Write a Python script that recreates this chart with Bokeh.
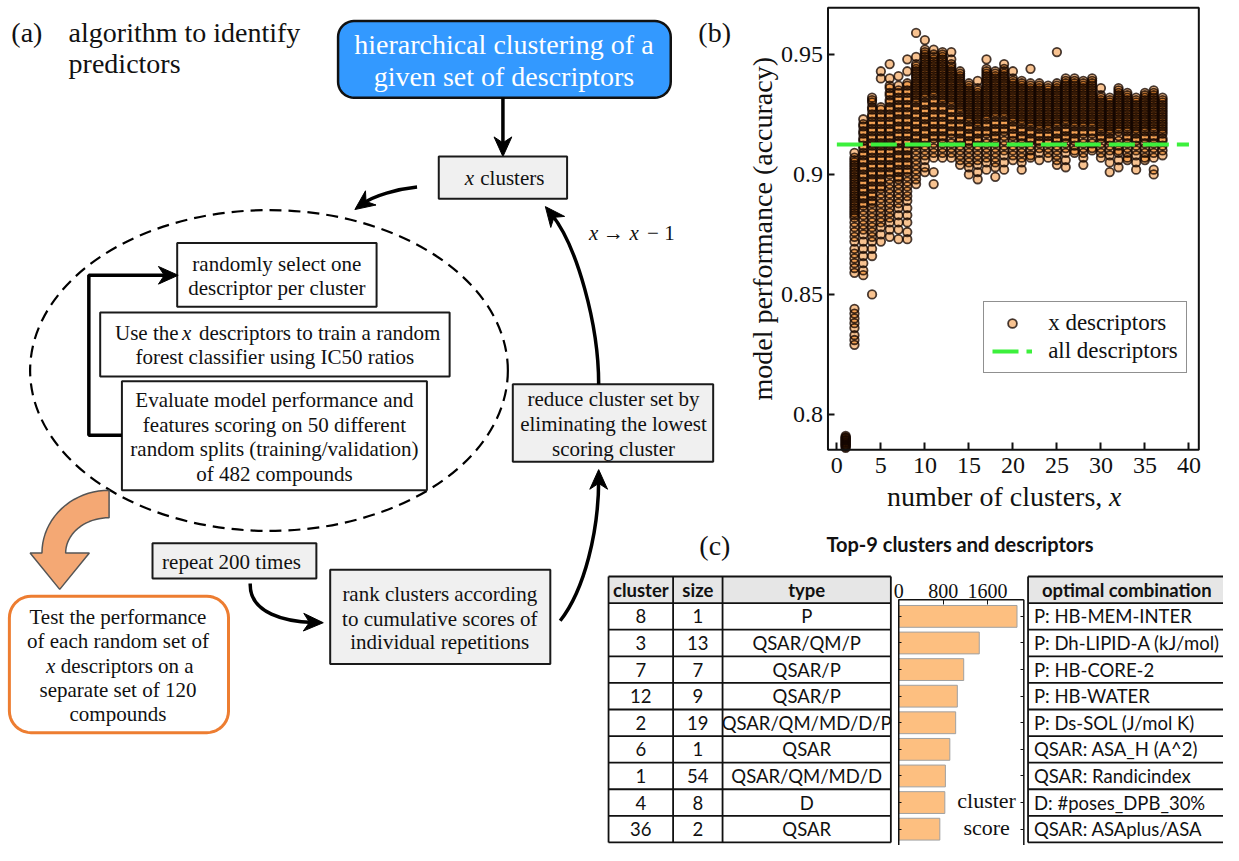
import math
from bokeh.plotting import figure
from bokeh.models import Range1d, LinearAxis, FixedTicker, Legend, LegendItem, ColumnDataSource
from bokeh.core.properties import value
from bokeh.embed import file_html
from bokeh.resources import INLINE

SERIF = "Liberation Serif"
SANS = "Lato"

# ---------------- panel (b) data: accuracy (in thousandths) per number of clusters -------------
cluster_counts = list(range(1, 38))
acc_x01 = [786, 786.5, 787, 787.5, 788, 788.5, 789, 789.5, 790, 790.5, 791, 787.2, 788.2, 789.2, 790.2]
acc_x02 = [909, 907, 906, 905, 904, 903, 902, 901, 900, 899, 898, 897, 896, 895, 894, 893, 892, 891, 890, 889, 888, 887, 886, 885, 884, 883, 882, 880, 878, 876, 874, 872, 869, 867, 865, 863, 861, 859, 844, 842, 840, 838, 836, 833, 831, 829]
acc_x03 = [923, 921, 920, 918, 917, 915, 914, 912, 911, 909, 908, 906, 905, 903, 902, 900, 899, 897, 896, 894, 893, 891, 890, 888, 887, 885, 883, 881, 879, 877, 875, 872, 869, 866, 863, 860, 858]
acc_x04 = [932, 931, 930, 928, 927, 925, 924, 922, 921, 919, 918, 916, 915, 913, 912, 910, 909, 907, 906, 904, 903, 901, 900, 898, 897, 895, 894, 892, 891, 889, 888, 886, 884, 882, 880, 878, 876, 874, 872, 869, 866, 850]
acc_x05 = [943, 940, 928, 927, 925, 924, 922, 921, 919, 918, 916, 915, 913, 912, 910, 909, 907, 906, 904, 903, 901, 900, 898, 897, 895, 894, 892, 890, 888, 886, 884, 882, 880, 878, 875, 872]
acc_x06 = [946, 940, 937, 936, 934, 933, 931, 930, 928, 927, 925, 924, 922, 921, 919, 918, 916, 915, 913, 912, 910, 909, 907, 906, 904, 903, 901, 900, 898, 896, 894, 892, 890, 888, 886, 884, 882, 880, 877, 874]
acc_x07 = [941, 937, 935, 934, 932, 931, 929, 928, 926, 925, 923, 922, 920, 919, 917, 916, 914, 913, 911, 910, 908, 907, 905, 904, 902, 901, 899, 898, 896, 894, 892, 890, 888, 886, 883, 880, 877, 873]
acc_x08 = [948, 943, 938, 937, 935, 934, 932, 931, 929, 928, 926, 925, 923, 922, 920, 919, 917, 916, 914, 913, 911, 910, 908, 907, 905, 904, 902, 901, 899, 897, 895, 893, 891, 889, 886, 883, 880, 876, 873]
acc_x09 = [959, 949, 946, 945, 944, 943, 942, 941, 940, 939, 938, 937, 936, 935, 934, 933, 932, 931, 930, 928, 927, 925, 924, 922, 921, 919, 918, 916, 915, 913, 912, 910, 908, 906, 904, 902, 900, 898, 896]
acc_x10 = [956, 952, 951, 950, 949, 948, 947, 946, 945, 944, 943, 942, 941, 940, 939, 938, 937, 936, 935, 934, 933, 932, 930, 929, 927, 926, 924, 923, 921, 920, 918, 917, 915, 914, 912, 910, 908, 906, 903, 901]
acc_x11 = [952, 950, 949, 948, 947, 946, 945, 944, 943, 942, 941, 940, 939, 938, 937, 936, 935, 934, 933, 931, 930, 928, 927, 925, 924, 922, 921, 919, 918, 916, 915, 913, 911, 909, 907, 901, 896]
acc_x12 = [951, 950, 949, 948, 947, 946, 945, 944, 943, 942, 941, 940, 939, 938, 937, 936, 935, 934, 933, 932, 931, 930, 928, 927, 925, 924, 922, 921, 919, 918, 916, 915, 913, 911, 909, 907]
acc_x13 = [951, 948, 946, 945, 944, 943, 942, 941, 940, 939, 938, 937, 936, 935, 934, 933, 932, 931, 930, 929, 927, 926, 924, 923, 921, 920, 918, 917, 915, 913, 911, 909, 907]
acc_x14 = [943, 942, 941, 940, 939, 938, 937, 936, 935, 934, 933, 932, 931, 930, 929, 928, 927, 926, 924, 923, 921, 920, 918, 917, 915, 914, 912, 910, 908, 906, 904]
acc_x15 = [938, 937, 936, 935, 934, 933, 932, 931, 930, 929, 928, 927, 926, 925, 924, 923, 922, 920, 919, 917, 916, 914, 913, 911, 909, 907, 905, 903, 900]
acc_x16 = [939, 936, 935, 934, 933, 932, 931, 930, 929, 928, 927, 926, 925, 924, 923, 922, 921, 920, 918, 917, 915, 914, 912, 910, 908, 906, 904, 901, 898]
acc_x17 = [948, 944, 943, 942, 941, 940, 939, 938, 937, 936, 935, 934, 933, 932, 931, 930, 929, 928, 927, 926, 925, 924, 923, 921, 920, 918, 917, 915, 913, 911, 909, 907, 905, 902]
acc_x18 = [943, 942, 941, 940, 939, 938, 937, 936, 935, 934, 933, 932, 931, 930, 929, 928, 927, 926, 925, 924, 922, 921, 919, 918, 916, 915, 913, 911, 909, 907, 905, 903, 899]
acc_x19 = [946, 944, 943, 942, 941, 940, 939, 938, 937, 936, 935, 934, 933, 932, 931, 930, 929, 928, 927, 926, 925, 924, 922, 921, 919, 918, 916, 914, 912, 910, 908, 905, 902]
acc_x20 = [943, 940, 939, 938, 937, 936, 935, 934, 933, 932, 931, 930, 929, 928, 927, 926, 925, 924, 923, 922, 920, 919, 917, 916, 914, 912, 910, 908, 906]
acc_x21 = [939, 938, 937, 936, 935, 934, 933, 932, 931, 930, 929, 928, 927, 926, 925, 924, 923, 922, 921, 919, 918, 916, 915, 913, 911, 909, 907, 905, 902]
acc_x22 = [944, 938, 937, 936, 935, 934, 933, 932, 931, 930, 929, 928, 927, 926, 925, 924, 923, 922, 921, 920, 918, 917, 915, 914, 912, 910, 908, 907]
acc_x23 = [938, 937, 936, 935, 934, 933, 932, 931, 930, 929, 928, 927, 926, 925, 924, 923, 922, 921, 920, 919, 917, 916, 914, 913, 911, 909, 906]
acc_x24 = [937, 936, 935, 934, 933, 932, 931, 930, 929, 928, 927, 926, 925, 924, 923, 922, 921, 920, 919, 917, 916, 914, 913, 911, 909, 907]
acc_x25 = [951, 938, 937, 936, 935, 934, 933, 932, 931, 930, 929, 928, 927, 926, 925, 924, 923, 922, 921, 920, 918, 917, 915, 914, 912, 910, 908, 906, 904]
acc_x26 = [940, 939, 938, 937, 936, 935, 934, 933, 932, 931, 930, 929, 928, 927, 926, 925, 924, 923, 922, 921, 919, 918, 916, 915, 913, 911, 909, 906, 903]
acc_x27 = [940, 939, 938, 937, 936, 935, 934, 933, 932, 931, 930, 929, 928, 927, 926, 925, 924, 923, 922, 921, 920, 918, 917, 915, 914, 912, 910, 909]
acc_x28 = [939, 938, 937, 936, 935, 934, 933, 932, 931, 930, 929, 928, 927, 926, 925, 924, 923, 922, 921, 920, 918, 917, 915, 913, 911, 909, 907, 904]
acc_x29 = [940, 939, 938, 937, 936, 935, 934, 933, 932, 931, 930, 929, 928, 927, 926, 925, 924, 923, 922, 921, 920, 918, 917, 915, 913, 911, 910]
acc_x30 = [936, 933, 932, 931, 930, 929, 928, 927, 926, 925, 924, 923, 922, 921, 920, 919, 918, 916, 915, 913, 911, 909, 907]
acc_x31 = [932, 931, 930, 929, 928, 927, 926, 925, 924, 923, 922, 921, 920, 919, 918, 917, 915, 914, 912, 910, 908, 905, 901]
acc_x32 = [936, 935, 934, 933, 932, 931, 930, 929, 928, 927, 926, 925, 924, 923, 922, 921, 920, 919, 918, 916, 914, 912, 910, 909, 906, 903]
acc_x33 = [934, 933, 932, 931, 930, 929, 928, 927, 926, 925, 924, 923, 922, 921, 920, 919, 918, 916, 915, 913, 911, 909, 907, 906]
acc_x34 = [932, 931, 930, 929, 928, 927, 926, 925, 924, 923, 922, 921, 920, 919, 918, 917, 915, 914, 912, 910, 908, 905, 902]
acc_x35 = [934, 933, 932, 931, 930, 929, 928, 927, 926, 925, 924, 923, 922, 921, 920, 919, 918, 916, 915, 913, 911, 909, 907, 906]
acc_x36 = [935, 934, 933, 932, 931, 930, 929, 928, 927, 926, 925, 924, 923, 922, 921, 920, 919, 918, 916, 915, 913, 911, 909, 907, 902, 900]
acc_x37 = [932, 931, 930, 929, 928, 927, 926, 925, 924, 923, 922, 921, 920, 919, 918, 917, 915, 914, 912, 910, 908]
acc_columns = [acc_x01, acc_x02, acc_x03, acc_x04, acc_x05, acc_x06, acc_x07, acc_x08, acc_x09, acc_x10,
               acc_x11, acc_x12, acc_x13, acc_x14, acc_x15, acc_x16, acc_x17, acc_x18, acc_x19, acc_x20,
               acc_x21, acc_x22, acc_x23, acc_x24, acc_x25, acc_x26, acc_x27, acc_x28, acc_x29, acc_x30,
               acc_x31, acc_x32, acc_x33, acc_x34, acc_x35, acc_x36, acc_x37]
all_desc_acc = 0.9125
all_desc_x = [0, 40]
b_xticks = [0, 5, 10, 15, 20, 25, 30, 35, 40]
b_yticks = [0.8, 0.85, 0.9, 0.95]

# ---------------- panel (c) data ----------------
ranks = [1, 2, 3, 4, 5, 6, 7, 8, 9]
cluster_ids = ["8", "3", "7", "12", "2", "6", "1", "4", "36"]
cluster_sizes = ["1", "13", "7", "9", "19", "1", "54", "8", "2"]
cluster_types = ["P", "QSAR/QM/P", "QSAR/P", "QSAR/P", "QSAR/QM/MD/D/P", "QSAR", "QSAR/QM/MD/D", "D", "QSAR"]
optimal_combo = ["P: HB-MEM-INTER", "P: Dh-LIPID-A (kJ/mol)", "P: HB-CORE-2", "P: HB-WATER",
                 "P: Ds-SOL (J/mol K)", "QSAR: ASA_H (A^2)", "QSAR: Randicindex",
                 "D: #poses_DPB_30%", "QSAR: ASAplus/ASA"]
cluster_scores = [2130, 1450, 1170, 1055, 1025, 920, 840, 830, 740]
c_xticks = [0, 800, 1600]

# ---------------- canvas: reference pixel coordinates (y downward), scaled to fit ----------------
W, H = 1223, 845
RW, RH = 1239, 861
SX, SY = W / RW, H / RH
p = figure(width=W, height=H, x_range=Range1d(0, RW), y_range=Range1d(RH, 0),
           x_axis_type=None, y_axis_type=None, output_backend="svg", toolbar_location=None,
           min_border=0, outline_line_color=None)
p.background_fill_color = "white"
p.border_fill_color = "white"


def lin_range(v0, p0, v1, p1, pstart, pend):
    k = (v1 - v0) / (p1 - p0)
    return Range1d(start=v0 + (pstart - p0) * k, end=v0 + (pend - p0) * k)


def val_at(v0, p0, v1, p1, px):
    return v0 + (px - p0) * (v1 - v0) / (p1 - p0)


# scatter panel anchors (reference pixel positions of ticks)
BX = (0, 847.3, 40, 1204.0)
BY = (0.95, 55.0, 0.8, 421.7)
FR_L, FR_R, FR_T, FR_B = 838.3, 1214.0, 7.5, 457.7
p.extra_x_ranges["bx"] = lin_range(*BX, 0, RW)
p.extra_y_ranges["by"] = lin_range(*BY, RH, 0)
# bar panel anchors
ROW0, ROWH = 627.55, 27.1
CX = (0, 910.0, 800, 955.0)
CY = (1, ROW0, 9, ROW0 + 8 * ROWH)
p.extra_x_ranges["cx"] = lin_range(*CX, 0, RW)
p.extra_y_ranges["cy"] = lin_range(*CY, RH, 0)


def T(x, y, s, size, align="center", font=SERIF, style="normal", color="#111111", yr="default",
      xr="default", angle=0.0):
    ys = y if isinstance(y, list) else [y]
    ss = s if isinstance(s, list) else [s]
    n = max(len(ys), len(ss))
    xs = x if isinstance(x, list) else [x] * n
    if len(ys) < n:
        ys = ys * n
    p.text(x=xs, y=ys, text=ss, text_font=value(font), text_font_size=f"{size}px",
           text_font_style=style, text_align=align, text_baseline="middle", text_color=color,
           x_range_name=xr, y_range_name=yr, angle=angle)


def box(l, t, r, b, fill="white", lw=2.0, lc="#1a1a1a"):
    p.quad(left=[l], right=[r], top=[t], bottom=[b], fill_color=fill, line_color=lc, line_width=lw)


def rrect(l, t, r, b, rad, n=10):
    xs, ys = [], []
    for cx, cy, a0, a1 in [(r - rad, t + rad, -90, 0), (r - rad, b - rad, 0, 90),
                           (l + rad, b - rad, 90, 180), (l + rad, t + rad, 180, 270)]:
        for k in range(n + 1):
            a = math.radians(a0 + (a1 - a0) * k / n)
            xs.append(cx + rad * math.cos(a))
            ys.append(cy + rad * math.sin(a))
    return xs, ys


def head(tx, ty, dx, dy, L=20, Wd=9, notch=0.3):
    n = math.hypot(dx, dy)
    ux, uy = dx / n, dy / n
    px, py = -uy, ux
    bx, by = tx - ux * L, ty - uy * L
    nx, ny = tx - ux * L * (1 - notch), ty - uy * L * (1 - notch)
    p.patch([tx, bx + px * Wd, nx, bx - px * Wd], [ty, by + py * Wd, ny, by - py * Wd],
            fill_color="black", line_color="black", line_width=1)


def curve(s, c0, c1, tip, lw=3.5):
    dx, dy = tip[0] - c1[0], tip[1] - c1[1]
    n = math.hypot(dx, dy)
    ex, ey = tip[0] - dx / n * 10, tip[1] - dy / n * 10
    p.bezier(x0=[s[0]], y0=[s[1]], x1=[ex], y1=[ey], cx0=[c0[0]], cy0=[c0[1]], cx1=[c1[0]], cy1=[c1[1]],
             line_color="black", line_width=lw)
    head(tip[0], tip[1], dx, dy)


# ---------------- panel (a): flowchart ----------------
T(11, 33, "(a)", 28, align="left")
T(69, 33, "algorithm to identify", 28, align="left")
T(69, 64, "predictors", 28, align="left")

p.ellipse(x=[272], y=[377], width=[484], height=[327], fill_color=None, line_color="black",
          line_width=2.2, line_dash="12 7")

ox, oy = [], []
for k in range(21):
    a = math.radians(-90 - 90 * k / 20)
    ox.append(110 + 68 * math.cos(a)); oy.append(563 + 64 * math.sin(a))
ox += [30, 60, 90, 66]; oy += [563, 600, 563, 563]
for k in range(21):
    a = math.radians(-180 + 90 * k / 20)
    ox.append(110 + 44 * math.cos(a)); oy.append(563 + 36 * math.sin(a))
p.patch(ox, oy, fill_color="#f4a874", line_color="#555555", line_width=1.5)

bxs, bys = rrect(342, 21, 679, 99, 16)
p.patch(bxs, bys, fill_color="#3399ff", line_color="#111111", line_width=2.5)
T(510, 45, "hierarchical clustering of a", 28, color="white")
T(510, 77, "given set of descriptors", 28, color="white")

p.line([509, 509], [99, 148], line_color="black", line_width=3.5)
head(509, 159, 0, 1)

box(444, 159, 574, 202, fill="#f0f0f0")
T(475, 181, "x", 21, style="italic")
T(486, 181, "clusters", 21, align="left")

box(179, 247, 381, 312)
T(280, [268, 293], ["randomly select one", "descriptor per cluster"], 21)

box(101, 318, 455, 383)
T(116, 339, "Use the", 21, align="left")
T(184, 339, "x", 21, align="left", style="italic")
T(201, 339, "descriptors to train a random", 21, align="left")
T(278, 363, "forest classifier using IC50 ratios", 21)

box(123, 388, 432, 499)
T(277.5, [407, 432.5, 457.5, 482], ["Evaluate model performance and", "features scoring on 50 different",
                                    "random splits (training/validation)", "of 482 compounds"], 21)

p.line([123, 89.5, 89.5, 170], [443, 443, 280, 280], line_color="black", line_width=3.5)
head(180, 280, 1, 0)

box(519, 391, 722, 470, fill="#f0f0f0")
T(621, [406.5, 431.5, 456.5], ["reduce cluster set by", "eliminating the lowest", "scoring cluster"], 21)

T(601, 237, "x", 21, style="italic")
T(621, 237, "\u2192", 21)
T(642, 237, "x", 21, style="italic")
T(669, 237, "\u2212 1", 21)

box(154, 553, 320, 589, fill="#f0f0f0")
T(234, 572, "repeat 200 times", 21)

box(334, 580, 557, 676, fill="#f0f0f0")
T(445, [605, 630, 654], ["rank clusters according", "to cumulative scores of", "individual repetitions"], 21)

txs, tys = rrect(9, 607, 231, 746, 22)
p.patch(txs, tys, fill_color="white", line_color="#ed7d31", line_width=3)
T(119, 628, "Test the performance", 21)
T(119, 653, "of each random set of", 21)
T(46, 678, "x", 21, align="left", style="italic")
T(61, 678, "descriptors on a", 21, align="left")
T(119, [703, 727], ["separate set of 120", "compounds"], 21)

curve((422, 190), (402, 192), (378, 199), (359, 213))
curve((606, 391), (606, 330), (584, 250), (552, 210))
curve((567, 632), (592, 600), (606, 540), (606, 478))
curve((253, 594), (252, 625), (290, 633), (327, 634))

# ---------------- panel (b): scatter ----------------
T(707, 33, "(b)", 28, align="left")
sx, sy = [], []
for n, col in zip(cluster_counts, acc_columns):
    for v in col:
        sx.append(n)
        sy.append(v / 1000.0)
scatter_src = ColumnDataSource(data=dict(n=sx, acc=sy))
# fills first, then all outlines on top so the overlapping rims accumulate
sc_fill = p.scatter(x="n", y="acc", source=scatter_src, x_range_name="bx", y_range_name="by", size=8.5,
                    marker="circle", fill_color="#f07a0a", fill_alpha=0.45, line_color=None)
sc_line = p.scatter(x="n", y="acc", source=scatter_src, x_range_name="bx", y_range_name="by", size=8.5,
                    marker="circle", fill_color=None, line_color="#140600", line_alpha=0.78, line_width=1.8)
gl = p.line(x=all_desc_x, y=[all_desc_acc] * len(all_desc_x), x_range_name="bx", y_range_name="by",
            line_color="#3cf03c", line_width=4, line_dash="26 8")
p.quad(left=[FR_L], right=[FR_R], top=[FR_T], bottom=[FR_B], fill_color=None, line_color="#111111",
       line_width=2)

xb = LinearAxis(x_range_name="bx", y_range_name="by", fixed_location=val_at(*BY, FR_B),
                ticker=FixedTicker(ticks=b_xticks, minor_ticks=[]))
yb = LinearAxis(x_range_name="bx", y_range_name="by", fixed_location=val_at(*BX, FR_L),
                ticker=FixedTicker(ticks=b_yticks, minor_ticks=[]))
yb.major_label_overrides = {0.8: "0.8", 0.85: "0.85", 0.9: "0.9", 0.95: "0.95"}
for ax in (xb, yb):
    ax.axis_line_color = None
    ax.major_tick_in = 7
    ax.major_tick_out = 0
    ax.major_tick_line_width = 2
    ax.major_tick_line_color = "#111111"
    ax.major_label_text_font = SERIF
    ax.major_label_text_font_size = "24px"
    ax.major_label_text_color = "#111111"
xb.major_label_standoff = 8
yb.major_label_standoff = 5
p.add_layout(xb, "below")
p.add_layout(yb, "left")
# axis titles
T(898, 505, "number of clusters,", 28, align="left")
T(1123, 505, "x", 28, align="left", style="italic")
T(772, (FR_T + FR_B) / 2, "model performance (accuracy)", 28, angle=math.pi / 2)

legend = Legend(items=[LegendItem(label="x descriptors", renderers=[sc_fill, sc_line]),
                       LegendItem(label="all descriptors", renderers=[gl])],
                location=(996 * SX, (RH - 380) * SY), label_text_font=SERIF, label_text_font_size="23px",
                label_text_color="#111111", glyph_width=40, glyph_height=22, label_standoff=16,
                padding=8, spacing=2, margin=0, border_line_color="#222222", border_line_width=1.5,
                background_fill_color="white", background_fill_alpha=1.0)
p.add_layout(legend)

# ---------------- panel (c): table + bars ----------------
T(708, 555, "(c)", 28, align="left")
T(972, 554, "Top-9 clusters and descriptors", 20, font=SANS, style="bold")

LT_L, LT_C1, LT_C2, LT_R = 616, 681.4, 731.5, 902
RT_L, RT_R = 1041, 1250
p.quad(left=[LT_L, RT_L], right=[LT_R, RT_R], top=[-0.5, -0.5], bottom=[0.5, 0.5], y_range_name="cy",
       fill_color="#e6e6e6", line_color=None)
hy = [k - 0.5 for k in range(11)]
p.segment(x0=[LT_L] * len(hy) + [RT_L] * len(hy), y0=hy + hy, x1=[LT_R] * len(hy) + [RT_R] * len(hy),
          y1=hy + hy, y_range_name="cy", line_color="#111111", line_width=1.8)
vx = [LT_L, LT_C1, LT_C2, LT_R, RT_L]
p.segment(x0=vx, y0=[-0.5] * len(vx), x1=vx, y1=[9.5] * len(vx), y_range_name="cy",
          line_color="#111111", line_width=1.8)

TS = 18.5
T((LT_L + LT_C1) / 2, 0, "cluster", TS, font=SANS, style="bold", yr="cy")
T((LT_C1 + LT_C2) / 2, 0, "size", TS, font=SANS, style="bold", yr="cy")
T((LT_C2 + LT_R) / 2, 0, "type", TS, font=SANS, style="bold", yr="cy")
T(1141, 0, "optimal combination", TS, font=SANS, style="bold", yr="cy")
T((LT_L + LT_C1) / 2, ranks, cluster_ids, TS, font=SANS, yr="cy")
T((LT_C1 + LT_C2) / 2, ranks, cluster_sizes, TS, font=SANS, yr="cy")
T((LT_C2 + LT_R) / 2, ranks, cluster_types, TS, font=SANS, yr="cy")
T(RT_L + 6, ranks, optimal_combo, TS, font=SANS, align="left", yr="cy")

p.hbar(y=ranks, left=0, right=cluster_scores, height=0.82, x_range_name="cx", y_range_name="cy",
       fill_color="#fdbf80", line_color="#a0a0a0", line_width=1)
BF_L, BF_R, BF_T = 910.0, 1036.7, 610.7
p.segment(x0=[BF_L, BF_R, BF_L], y0=[BF_T, BF_T, BF_T], x1=[BF_L, BF_R, BF_R], y1=[880, 880, BF_T],
          line_color="#111111", line_width=1.5)
T(999, [815, 843], ["cluster", "score"], 22)

xc = LinearAxis(x_range_name="cx", y_range_name="cy", fixed_location=val_at(*CY, BF_T),
                ticker=FixedTicker(ticks=c_xticks, minor_ticks=[]))
xc.axis_line_color = None
xc.major_tick_in = 5
xc.major_tick_out = 0
xc.major_tick_line_color = "#111111"
xc.major_label_standoff = 2
xc.major_label_text_font = SERIF
xc.major_label_text_font_size = "20px"
xc.major_label_text_color = "#111111"
p.add_layout(xc, "above")
for side, loc in (("left", val_at(*CX, BF_L)), ("right", val_at(*CX, BF_R))):
    ya = LinearAxis(x_range_name="cx", y_range_name="cy", fixed_location=loc,
                    ticker=FixedTicker(ticks=ranks, minor_ticks=[]))
    ya.axis_line_color = None
    ya.major_tick_in = 3
    ya.major_tick_out = 0
    ya.major_tick_line_color = "#111111"
    ya.major_label_text_color = None
    p.add_layout(ya, side)

open("out.html", "w").write(file_html(p, INLINE))
